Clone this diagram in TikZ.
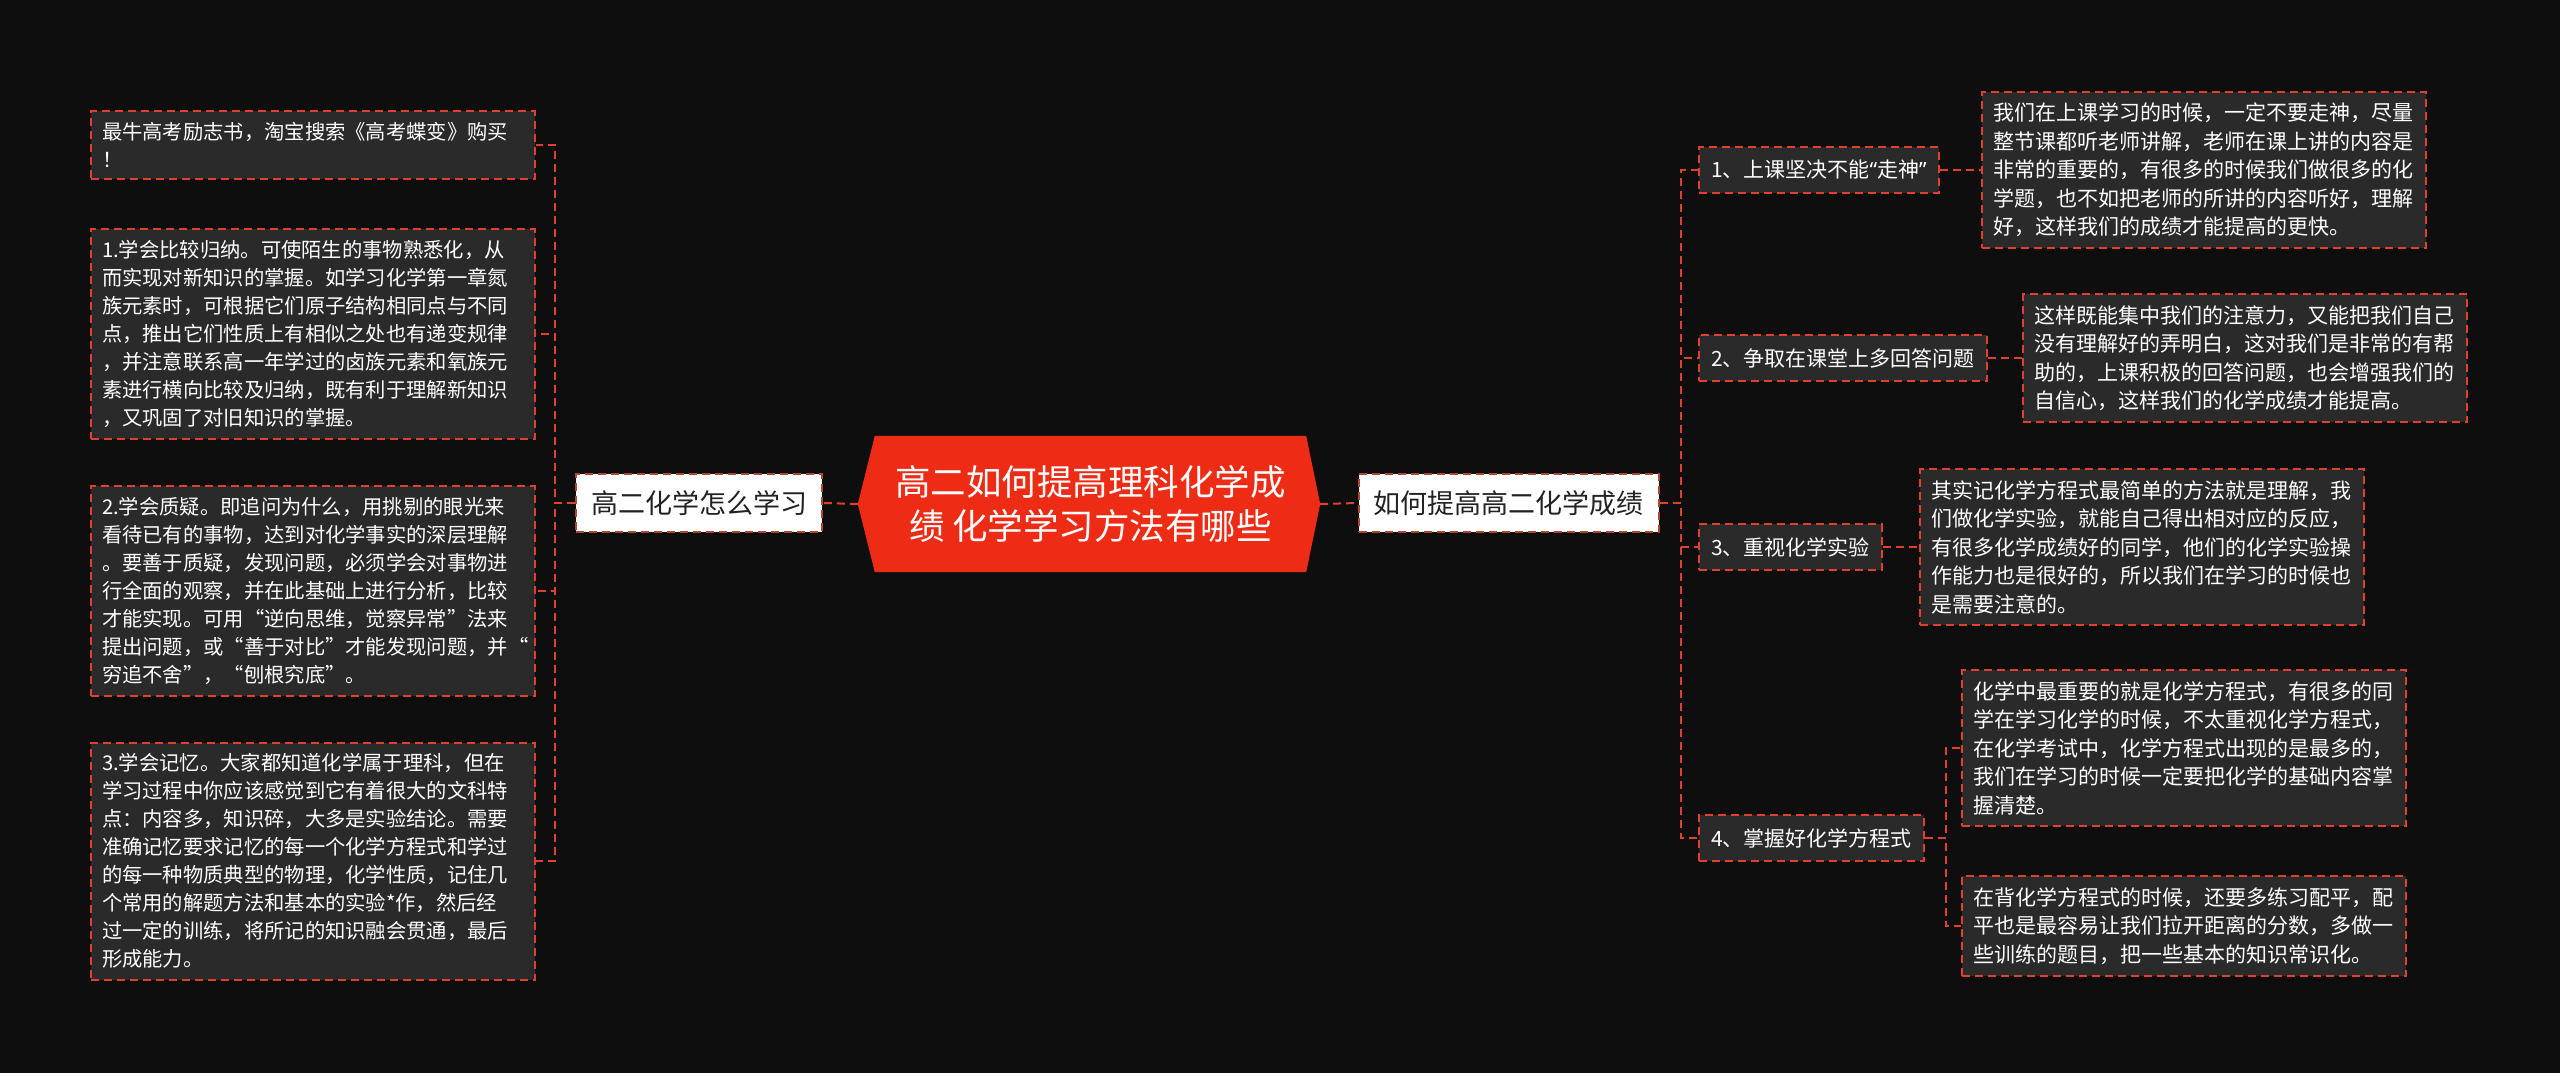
\documentclass[tikz,border=0pt]{standalone}
\usepackage{fontspec}
\setmainfont{Noto Sans CJK SC}
\newfontfamily\latinq{Noto Sans}
\newcommand\myqL{{\latinq “}}
\newcommand\myqR{{\latinq ”}}
\usetikzlibrary{backgrounds}
\definecolor{bgc}{HTML}{0E0E0E}
\definecolor{boxc}{HTML}{2A2A2A}
\definecolor{linec}{HTML}{E0402E}
\definecolor{lvline}{HTML}{B4432F}
\definecolor{rootc}{HTML}{EE2C16}
\definecolor{lvtext}{HTML}{222222}
\begin{document}
\begin{tikzpicture}[x=1pt,y=-1pt,
  dashline/.style={line width=2pt, dash pattern=on 8pt off 5pt},
  conn/.style={draw=linec, dashline},
  leafbox/.style={draw=linec, fill=boxc, dashline, text=white, text width=422pt, align=left, inner xsep=11pt, inner ysep=11pt},
  leftleaf/.style={leafbox, anchor=east, font=\fontsize{20.3pt}{28pt}\selectfont},
  rightleaf/.style={leafbox, anchor=west, font=\fontsize{21pt}{28.5pt}\selectfont},
  itembox/.style={draw=linec, fill=boxc, dashline, text=white, anchor=west, inner xsep=12pt, inner ysep=0pt, minimum height=46pt, font=\fontsize{21pt}{26pt}\selectfont},
  lvone/.style={draw=lvline, fill=white, dashline, text=lvtext, inner xsep=15pt, inner ysep=0pt, minimum height=58pt, font=\fontsize{27pt}{32pt}\selectfont},
  rootnode/.style={text=white, align=center, minimum width=431pt, minimum height=136pt, inner sep=0pt, font=\fontsize{35.5pt}{44pt}\selectfont}
]
\useasboundingbox (0,0) rectangle (2560,1073);
\begin{pgfonlayer}{background}
\fill[bgc] (0,0) rectangle (2560,1073);
\end{pgfonlayer}

% root
\node[rootnode] (c) at (1090.5,504) {高二如何提高理科化学成\\绩 化学学习方法有哪些};
\begin{pgfonlayer}{background}
\fill[rootc] ([xshift=-17pt]c.west) -- (c.north west) -- (c.north east) -- ([xshift=14pt]c.east) -- (c.south east) -- (c.south west) -- cycle;
\end{pgfonlayer}

% level one
\node[lvone] (L) at (699,503) {高二化学怎么学习};
\node[lvone] (R) at (1508.5,503) {如何提高高二化学成绩};

% left leaves
\node[leftleaf] (l0) at (536,145) {最牛高考励志书，淘宝搜索《高考蝶变》购买\\！};
\node[leftleaf] (l1) at (536,334) {1.学会比较归纳。可使陌生的事物熟悉化，从\\而实现对新知识的掌握。如学习化学第一章氮\\族元素时，可根据它们原子结构相同点与不同\\点，推出它们性质上有相似之处也有递变规律\\，并注意联系高一年学过的卤族元素和氧族元\\素进行横向比较及归纳，既有利于理解新知识\\，又巩固了对旧知识的掌握。};
\node[leftleaf] (l2) at (536,591) {2.学会质疑。即追问为什么，用挑剔的眼光来\\看待已有的事物，达到对化学事实的深层理解\\。要善于质疑，发现问题，必须学会对事物进\\行全面的观察，并在此基础上进行分析，比较\\才能实现。可用“逆向思维，觉察异常”法来\\提出问题，或“善于对比”才能发现问题，并“\\穷追不舍”，“刨根究底”。};
\node[leftleaf] (l3) at (536,861) {3.学会记忆。大家都知道化学属于理科，但在\\学习过程中你应该感觉到它有着很大的文科特\\点：内容多，知识碎，大多是实验结论。需要\\准确记忆要求记忆的每一个化学方程式和学过\\的每一种物质典型的物理，化学性质，记住几\\个常用的解题方法和基本的实验*作，然后经\\过一定的训练，将所记的知识融会贯通，最后\\形成能力。};

% right items
\node[itembox] (i1) at (1698,170) {1、上课坚决不能\myqL 走神\myqR};
\node[itembox] (i2) at (1698,358) {2、争取在课堂上多回答问题};
\node[itembox] (i3) at (1698,547) {3、重视化学实验};
\node[itembox] (i4) at (1698,838) {4、掌握好化学方程式};

% right leaves
\node[rightleaf] (r1) at (1981,170) {我们在上课学习的时候，一定不要走神，尽量\\整节课都听老师讲解，老师在课上讲的内容是\\非常的重要的，有很多的时候我们做很多的化\\学题，也不如把老师的所讲的内容听好，理解\\好，这样我们的成绩才能提高的更快。};
\node[rightleaf] (r2) at (2022,358) {这样既能集中我们的注意力，又能把我们自己\\没有理解好的弄明白，这对我们是非常的有帮\\助的，上课积极的回答问题，也会增强我们的\\自信心，这样我们的化学成绩才能提高。};
\node[rightleaf] (r3) at (1919,547) {其实记化学方程式最简单的方法就是理解，我\\们做化学实验，就能自己得出相对应的反应，\\有很多化学成绩好的同学，他们的化学实验操\\作能力也是很好的，所以我们在学习的时候也\\是需要注意的。};
\node[rightleaf] (r4a) at (1961,748) {化学中最重要的就是化学方程式，有很多的同\\学在学习化学的时候，不太重视化学方程式，\\在化学考试中，化学方程式出现的是最多的，\\我们在学习的时候一定要把化学的基础内容掌\\握清楚。};
\node[rightleaf] (r4b) at (1961,926) {在背化学方程式的时候，还要多练习配平，配\\平也是最容易让我们拉开距离的分数，多做一\\些训练的题目，把一些基本的知识常识化。};

% connectors
\draw[conn] ([xshift=-17pt]c.west) -- (L.east);
\draw[conn] ([xshift=14pt]c.east) -- (R.west);
\foreach \t in {l0,l1,l2,l3} \draw[conn] (L.west) -- ++(-20,0) |- (\t.east);
\foreach \t in {i1,i2,i3,i4} \draw[conn] (R.east) -- ++(21,0) |- (\t.west);
\draw[conn] (i1.east) -- (r1.west);
\draw[conn] (i2.east) -- (r2.west);
\draw[conn] (i3.east) -- (r3.west);
\draw[conn] (i4.east) -- ++(21,0) |- (r4a.west);
\draw[conn] (i4.east) -- ++(21,0) |- (r4b.west);
\end{tikzpicture}
\end{document}
